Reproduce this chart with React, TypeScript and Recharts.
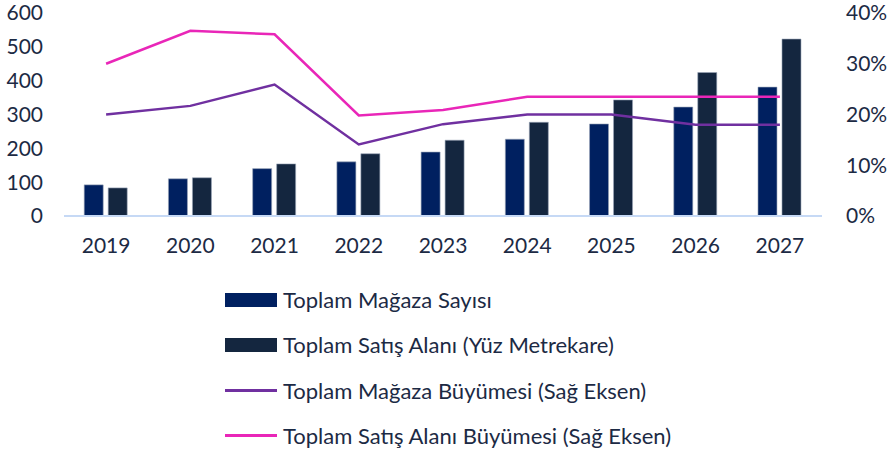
import React from "react";
import {
    ComposedChart,
    Bar,
    Line,
    XAxis,
    YAxis,
    Legend,
} from "recharts";

const years = ["2019", "2020", "2021", "2022", "2023", "2024", "2025", "2026", "2027"];
const magazaSayisi = [92, 110, 140, 160, 189, 227, 272, 322, 381];
const satisAlani = [83, 113, 154, 184, 224, 277, 343, 424, 523];
const magazaBuyume = [20, 21.7, 25.9, 14.1, 18.1, 20, 20, 18, 18];
const satisBuyume = [30, 36.5, 35.8, 19.8, 20.9, 23.5, 23.5, 23.5, 23.5];

const leftTicks = [0, 100, 200, 300, 400, 500, 600];
const rightTicks = [0, 10, 20, 30, 40];

const data = years.map((y, i) => ({
    year: y,
    magaza: magazaSayisi[i],
    alan: satisAlani[i],
    magazaG: magazaBuyume[i],
    alanG: satisBuyume[i],
}));

const FONT = "Lato, 'Open Sans', sans-serif";
const TEXT = "#1c2a44";

const legendItems = [
    { label: "Toplam Mağaza Sayısı", color: "#002060", kind: "bar" },
    { label: "Toplam Satış Alanı (Yüz Metrekare)", color: "#14263f", kind: "bar" },
    { label: "Toplam Mağaza Büyümesi (Sağ Eksen)", color: "#7030a0", kind: "line" },
    { label: "Toplam Satış Alanı Büyümesi (Sağ Eksen)", color: "#e926b8", kind: "line" },
];

function LegendBox() {
    return (
        <div style={{ height: 176, fontFamily: FONT, color: TEXT, fontSize: 22 }}>
            {legendItems.map((it) => (
                <div
                    key={it.label}
                    style={{ height: 45.3, display: "flex", alignItems: "center" }}
                >
                    <div
                        style={{
                            width: 52,
                            height: it.kind === "bar" ? 14 : 3,
                            background: it.color,
                            marginRight: 6,
                        }}
                    />
                    <span style={{ whiteSpace: "nowrap" }}>{it.label}</span>
                </div>
            ))}
        </div>
    );
}

export default function App() {
    return (
        <div style={{ position: "absolute", left: 0, top: 0, width: 888, height: 452, background: "#fff" }}>
            <ComposedChart
                width={888}
                height={452}
                data={data}
                margin={{ top: 13, right: 0, bottom: 0, left: 0 }}
                barGap={5}
                barCategoryGap="24%"
            >
                <XAxis
                    dataKey="year"
                    axisLine={{ stroke: "#c6d9f5", strokeWidth: 2 }}
                    tickLine={false}
                    tickSize={0}
                    tickMargin={22}
                    height={60}
                    tick={{ fill: TEXT, fontSize: 21, fontFamily: FONT }}
                />
                <YAxis
                    yAxisId="left"
                    domain={[0, 600]}
                    ticks={leftTicks}
                    axisLine={false}
                    tickLine={false}
                    tickSize={0}
                    tickMargin={21}
                    width={64}
                    tick={{ fill: TEXT, fontSize: 21, fontFamily: FONT }}
                />
                <YAxis
                    yAxisId="right"
                    orientation="right"
                    domain={[0, 40]}
                    ticks={rightTicks}
                    tickFormatter={(v) => `${v}%`}
                    axisLine={false}
                    tickLine={false}
                    tickSize={0}
                    tickMargin={24}
                    width={66}
                    tick={{ fill: TEXT, fontSize: 21, fontFamily: FONT, textAnchor: "start" }}
                />
                <Legend
                    verticalAlign="bottom"
                    align="center"
                    content={() => <LegendBox />}
                    wrapperStyle={{ left: 225, top: 277, width: "auto" }}
                />
                <Bar
                    yAxisId="left"
                    dataKey="magaza"
                    fill="#002060"
                    stroke="#9aa6b8"
                    strokeWidth={0.6}
                    isAnimationActive={false}
                />
                <Bar
                    yAxisId="left"
                    dataKey="alan"
                    fill="#14263f"
                    stroke="#9aa6b8"
                    strokeWidth={0.6}
                    isAnimationActive={false}
                />
                <Line
                    yAxisId="right"
                    dataKey="magazaG"
                    type="linear"
                    stroke="#7030a0"
                    strokeWidth={2.5}
                    dot={false}
                    isAnimationActive={false}
                />
                <Line
                    yAxisId="right"
                    dataKey="alanG"
                    type="linear"
                    stroke="#e926b8"
                    strokeWidth={2.5}
                    dot={false}
                    isAnimationActive={false}
                />
            </ComposedChart>
        </div>
    );
}
